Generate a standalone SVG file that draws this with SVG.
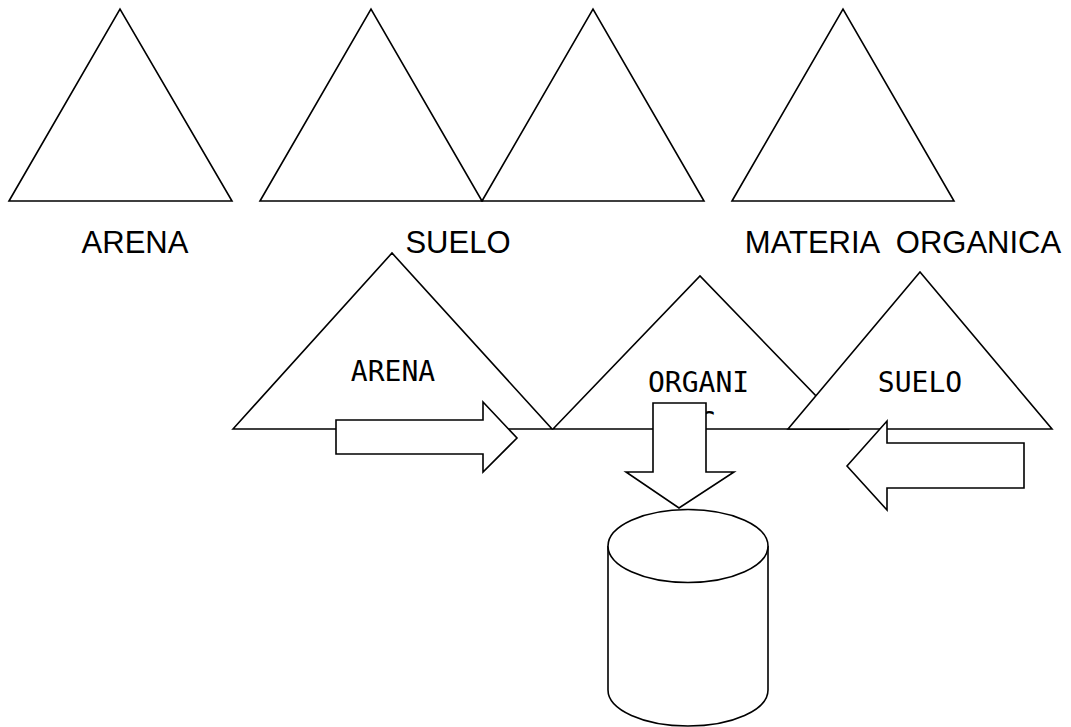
<svg xmlns="http://www.w3.org/2000/svg" width="1071" height="727" viewBox="0 0 1071 727">
<style>
.sh{fill:#fff;stroke:#000;stroke-width:1.6;stroke-linejoin:miter}
.lbl{font-family:"Liberation Sans",Arial,sans-serif;font-size:31px;fill:#000;white-space:pre}
.mono{font-family:"DejaVu Sans Mono",monospace;font-size:28px;fill:#000}
</style>
<defs>
<clipPath id="clipC"><rect x="690" y="395" width="40" height="24"/></clipPath>
</defs>
<rect width="1071" height="727" fill="#fff"/>
<g id="top-arena">
<polygon class="sh" points="9,201 120,9 232,201"/>
<text class="lbl" x="135" y="253" text-anchor="middle">ARENA</text>
</g>
<g id="top-suelo">
<polygon class="sh" points="260,201 371,9 482,201"/>
<polygon class="sh" points="482,201 593,9 704,201"/>
<text class="lbl" x="458" y="253" text-anchor="middle">SUELO</text>
</g>
<g id="top-materia">
<polygon class="sh" points="732,201 843,9 954,201"/>
<text class="lbl" x="903" y="253" text-anchor="middle" xml:space="preserve">MATERIA  ORGANICA</text>
</g>
<g id="bottom-arena">
<polygon class="sh" points="233,429 392,253 552,429"/>
<text class="mono" x="393" y="381" text-anchor="middle">ARENA</text>
</g>
<g id="bottom-organica">
<polygon class="sh" points="553,429 700,276 848,429"/>
<text class="mono" x="648" y="392">ORGANI</text>
<text class="mono" x="699" y="432" clip-path="url(#clipC)">C</text>
</g>
<g id="bottom-suelo">
<polygon class="sh" points="788,429 920,272 1052,429"/>
<text class="mono" x="920" y="392" text-anchor="middle">SUELO</text>
</g>
<g id="deposito">
<path class="sh" d="M608,546 L608,690 A80,36 0 0,0 768,690 L768,546"/>
<ellipse class="sh" cx="688" cy="546" rx="80" ry="36.5"/>
</g>
<g id="connectors">
<polygon class="sh" points="336,420 483,420 483,402 517,438 483,472 483,454 336,454"/>
<polygon class="sh" points="653,403 706,403 706,472 734,472 679,508 626,472 653,472"/>
<polygon class="sh" points="1024,443 887,443 887,421 847,466 887,510 887,488 1024,488"/>
</g>
</svg>
